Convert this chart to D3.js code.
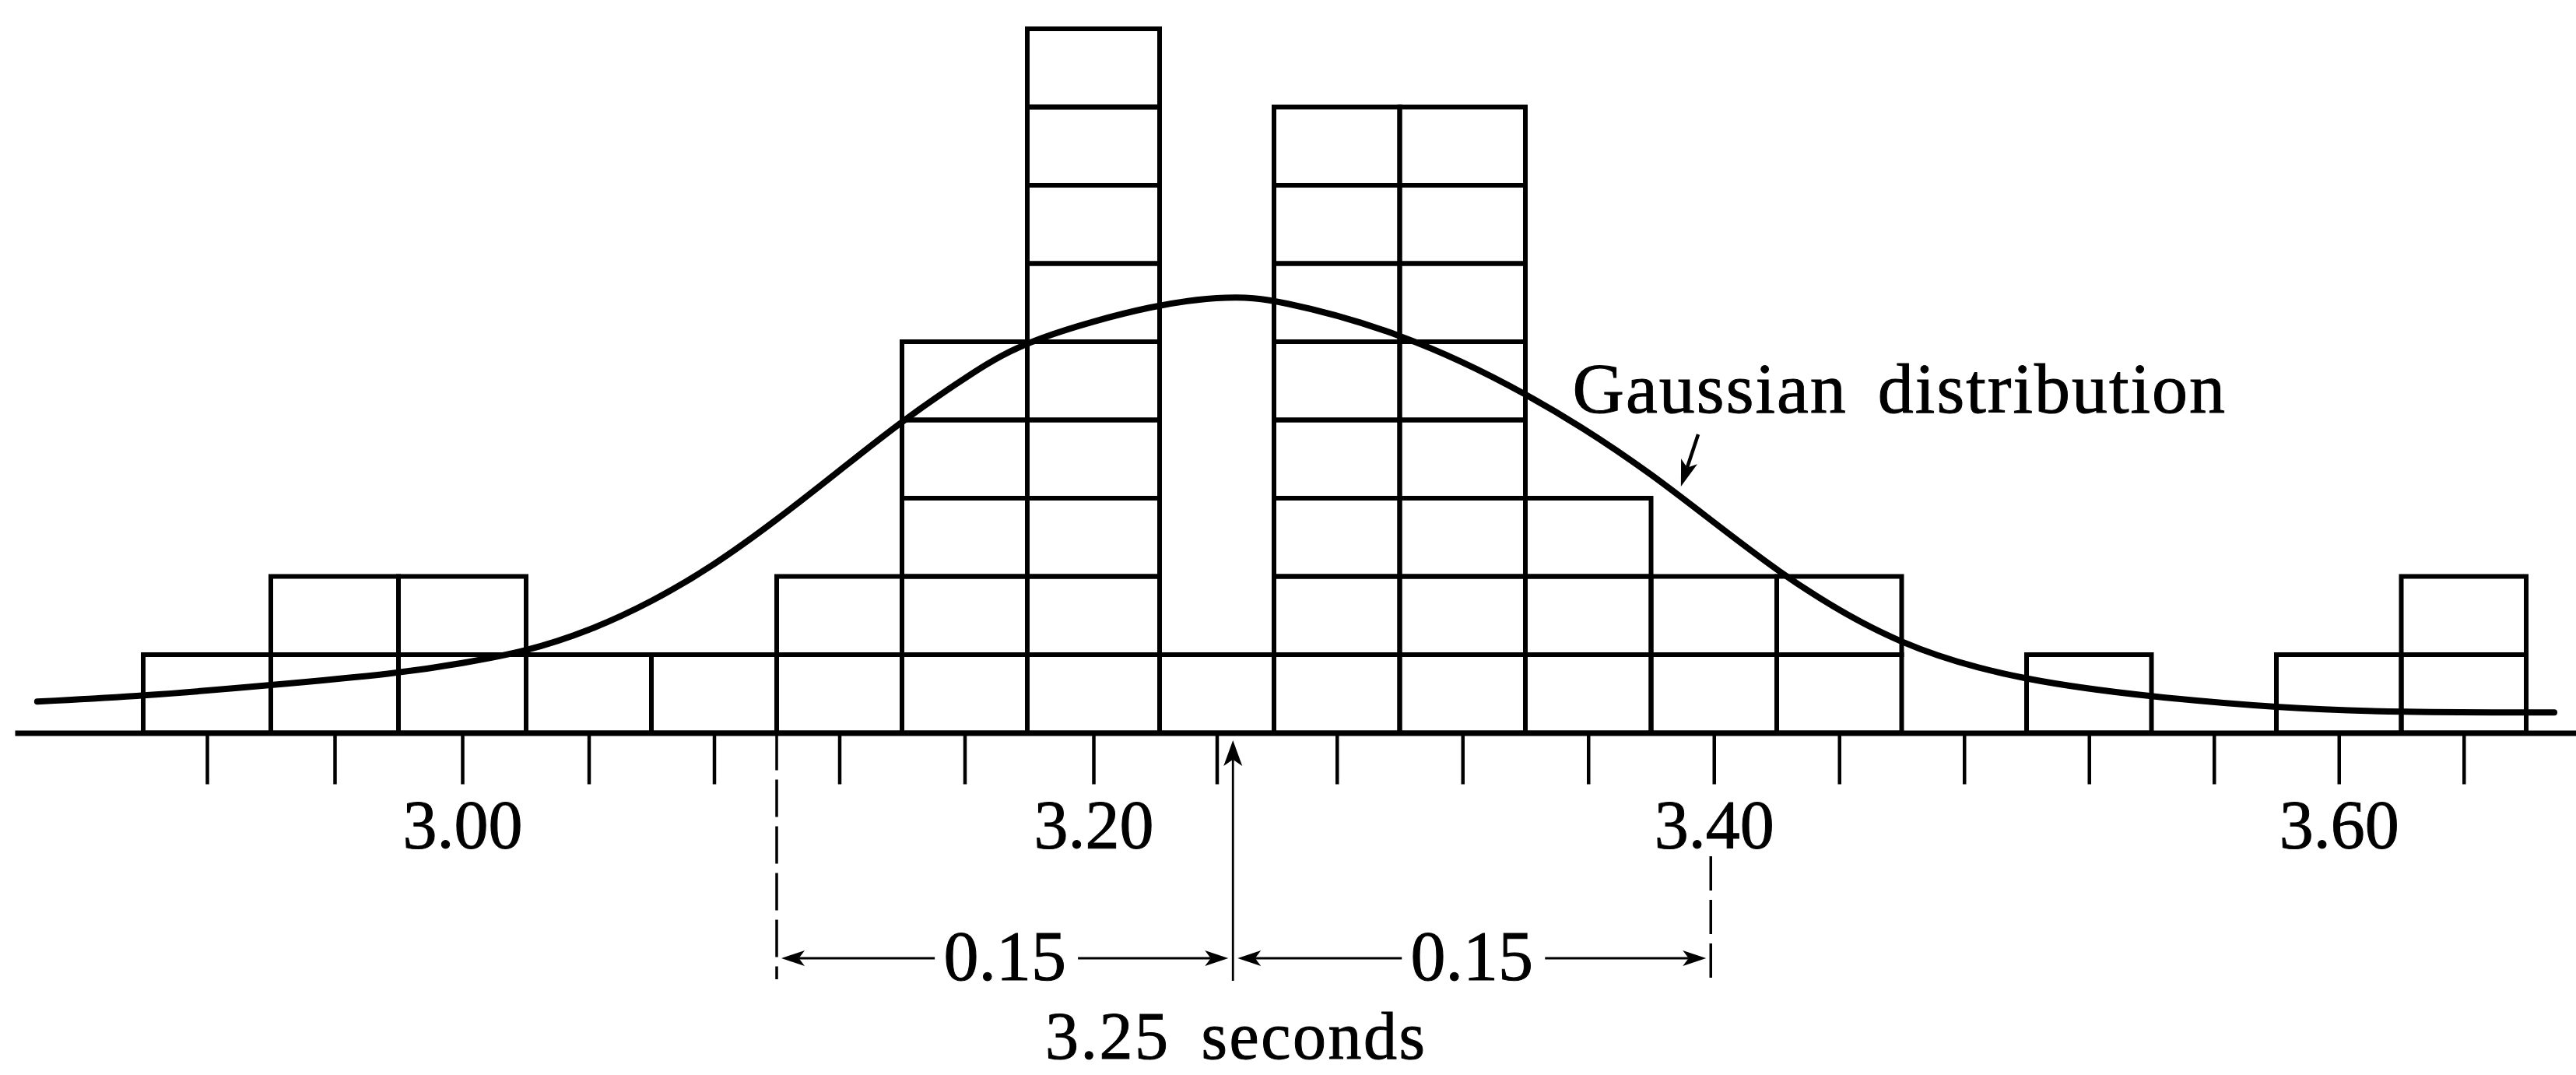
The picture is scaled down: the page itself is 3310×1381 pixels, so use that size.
<!DOCTYPE html>
<html>
<head>
<meta charset="utf-8">
<script src="https://cdn.jsdelivr.net/npm/d3@7"></script>
<style>
  html, body { margin: 0; padding: 0; background: #fff; }
  svg { display: block; }
</style>
</head>
<body>
<svg id="chart" width="3310" height="1381"></svg>
<script>
// bin centres (seconds) and number of timings in each 0.04 s bin
const binCenters = [2.92, 2.96, 3.00, 3.04, 3.08, 3.12, 3.16, 3.20, 3.24, 3.28,
                    3.32, 3.36, 3.40, 3.44, 3.48, 3.52, 3.56, 3.60, 3.64];
const binCounts = [1, 2, 2, 1, 1, 2, 5, 9, 1, 8, 8, 3, 2, 2, 0, 1, 0, 1, 2];
const binWidth = 0.04;

// labelled ticks
const labelValues = [3.00, 3.20, 3.40, 3.60];
const labelTexts = ["3.00", "3.20", "3.40", "3.60"];

// the smooth curve (time, height in boxes)
const curveTimes = [2.867, 2.900, 2.940, 2.980, 3.000, 3.020, 3.040, 3.060, 3.080, 3.100,
                    3.120, 3.140, 3.163, 3.180, 3.220, 3.245, 3.260, 3.300, 3.340, 3.380,
                    3.420, 3.460, 3.500, 3.540, 3.580, 3.620, 3.669];
const curveHeights = [0.40, 0.47, 0.61, 0.76, 0.89, 1.04, 1.30, 1.67, 2.14, 2.72,
                      3.35, 3.99, 4.62, 5.03, 5.50, 5.58, 5.55, 5.13, 4.37, 3.35,
                      2.03, 1.08, 0.66, 0.46, 0.32, 0.26, 0.26];

const meanTime = 3.25;
const halfSpread = 0.15;

const svg = d3.select("#chart");
const width = +svg.attr("width");
const height = +svg.attr("height");
const serif = "'Liberation Serif', 'DejaVu Serif', serif";

svg.append("rect").attr("width", width).attr("height", height).attr("fill", "#fff");

// the printed scale is not quite even, so use a piecewise scale
const x = d3.scaleLinear()
  .domain([2.86, 2.90, 3.02, 3.10, 3.18, 3.22, 3.26, 3.42, 3.66, 3.68])
  .range([19, 184, 676, 998, 1320, 1490, 1637, 2283, 3246, 3326]);
const y = d3.scaleLinear().domain([0, 9]).range([941.5, 37]);
const baseY = y(0);

// boxes, one per timing
const boxes = [];
binCenters.forEach((c, i) => {
  for (let k = 0; k < binCounts[i]; k++) boxes.push({ c: c, k: k });
});

svg.append("g")
  .selectAll("rect")
  .data(boxes)
  .join("rect")
  .attr("x", (d) => x(d.c - binWidth / 2))
  .attr("y", (d) => y(d.k + 1))
  .attr("width", (d) => x(d.c + binWidth / 2) - x(d.c - binWidth / 2))
  .attr("height", (d) => y(d.k) - y(d.k + 1))
  .attr("fill", "none")
  .attr("stroke", "#000")
  .attr("stroke-width", 6);

// axis
const axis = svg.append("g")
  .attr("transform", `translate(0,${baseY})`)
  .call(
    d3.axisBottom(x)
      .tickValues(binCenters)
      .tickSize(66)
      .tickSizeOuter(0)
      .tickFormat((d) => {
        const j = labelValues.findIndex((v) => Math.abs(v - d) < 1e-6);
        return j >= 0 ? labelTexts[j] : "";
      })
  );
axis.select(".domain").attr("stroke", "#000").attr("stroke-width", 7);
axis.selectAll(".tick line").attr("stroke", "#000").attr("stroke-width", 4.5);
axis.selectAll(".tick text")
  .attr("y", 147)
  .attr("dy", 0)
  .attr("fill", "#000")
  .attr("stroke", "#000")
  .attr("stroke-width", 1)
  .style("font-family", serif)
  .style("font-size", "88px");

// gaussian curve
const curvePts = curveTimes.map((t, i) => ({ t: t, h: curveHeights[i] }));
svg.append("path")
  .datum(curvePts)
  .attr("d", d3.line().x((d) => x(d.t)).y((d) => y(d.h)).curve(d3.curveBasis))
  .attr("fill", "none")
  .attr("stroke", "#000")
  .attr("stroke-width", 8)
  .attr("stroke-linecap", "round");

// arrow helper: shaft from (x1,y1), filled head with its tip at (x2,y2)
function arrow(g, x1, y1, x2, y2, len, hw, sw) {
  const a = Math.atan2(y2 - y1, x2 - x1);
  const ca = Math.cos(a), sa = Math.sin(a);
  const bx = x2 - len * ca, by = y2 - len * sa;
  const nx = x2 - len * 0.75 * ca, ny = y2 - len * 0.75 * sa;
  g.append("line")
    .attr("x1", x1).attr("y1", y1).attr("x2", nx).attr("y2", ny)
    .attr("stroke", "#000").attr("stroke-width", sw);
  g.append("path")
    .attr("d", `M${x2},${y2} L${bx + hw * sa},${by - hw * ca} L${nx},${ny} L${bx - hw * sa},${by + hw * ca} Z`)
    .attr("fill", "#000");
}

const ann = svg.append("g");
const lo = meanTime - halfSpread, hi = meanTime + halfSpread;
const meanX = x(meanTime) - 16; // the printed pointer sits a touch left of 3.25
const rowY = 1231;

// dashed guides at mean +/- spread
ann.append("line")
  .attr("x1", x(lo)).attr("x2", x(lo))
  .attr("y1", baseY).attr("y2", 1258)
  .attr("stroke", "#000").attr("stroke-width", 3.5)
  .attr("stroke-dasharray", "48,12");
ann.append("line")
  .attr("x1", x(hi) - 4).attr("x2", x(hi) - 4)
  .attr("y1", 1100).attr("y2", 1258)
  .attr("stroke", "#000").attr("stroke-width", 3.5)
  .attr("stroke-dasharray", "44,12");

// central arrow pointing at the mean
arrow(ann, meanX, 1260, meanX, 951, 33, 12, 2.8);

// 0.15 spans
[[x(lo), meanX], [meanX, x(hi) - 4]].forEach(([a, b]) => {
  const mid = (a + b) / 2;
  arrow(ann, mid - 90, rowY, a + 6, rowY, 30, 10, 3);
  arrow(ann, mid + 94, rowY, b - 6, rowY, 30, 10, 3);
  ann.append("text")
    .attr("x", mid).attr("y", 1259)
    .attr("text-anchor", "middle")
    .attr("stroke", "#000").attr("stroke-width", 1)
    .style("font-family", serif).style("font-size", "90px")
    .text(halfSpread.toFixed(2));
});

ann.append("text")
  .attr("x", meanX + 4).attr("y", 1360)
  .attr("text-anchor", "middle")
  .attr("stroke", "#000").attr("stroke-width", 1)
  .style("font-family", serif).style("font-size", "86px")
  .style("letter-spacing", "2.5px").style("word-spacing", "16px")
  .text(meanTime.toFixed(2) + " seconds");

// curve label
ann.append("text")
  .attr("x", x(3.355)).attr("y", y(4.09))
  .attr("stroke", "#000").attr("stroke-width", 1)
  .style("font-family", serif).style("font-size", "92px")
  .style("letter-spacing", "2px").style("word-spacing", "14px")
  .text("Gaussian distribution");
arrow(ann, x(3.395), y(3.816), x(3.3895), y(3.149), 34, 11, 4.5);
</script>
</body>
</html>
